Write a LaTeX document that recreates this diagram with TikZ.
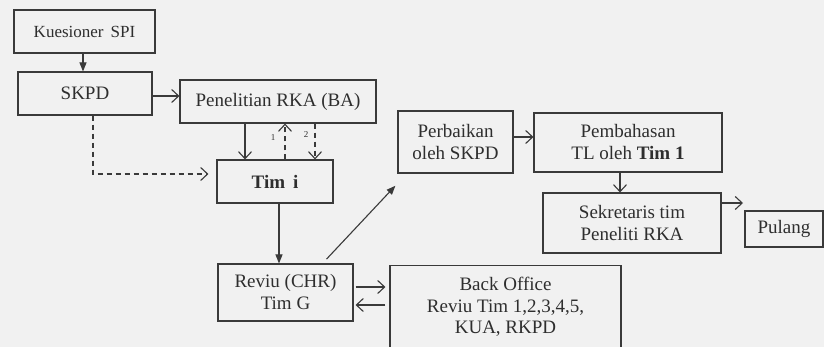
\documentclass[tikz,border=0pt]{standalone}
\usepackage{fontspec}
\setmainfont{Liberation Serif}
\usetikzlibrary{arrows.meta,calc}
\definecolor{linec}{HTML}{3A3A3A}
\definecolor{textc}{HTML}{2E2E2E}
\definecolor{bgc}{HTML}{F1F1F1}
\tikzset{
  box/.style={draw=linec, line width=1.1pt, rectangle, inner sep=0pt, align=center,
    font=\fontsize{19}{22}\selectfont, text=textc},
  openarr/.style={draw=linec, line width=1.1pt, -{Straight Barb[length=7pt,width=13pt,line width=1.1pt]}},
  fillarr/.style={draw=linec, line width=1.1pt, -{Triangle[length=9pt,width=7pt]}},
  dasharr/.style={openarr, dash pattern=on 5pt off 4pt},
  numlbl/.style={font=\fontsize{9}{9}\selectfont, text=textc, inner sep=0pt}
}
\begin{document}
\begin{tikzpicture}[x=1pt,y=-1pt]
\fill[bgc] (0,0) rectangle (824,347);
\useasboundingbox (0,0) rectangle (824,347);
\clip (0,0) rectangle (824,347);

\node[box, minimum width=141pt, minimum height=43pt, font=\fontsize{17}{20}\selectfont] (kues) at (84.5,31.5) {Kuesioner\, SPI};
\node[box, minimum width=134pt, minimum height=43pt] (skpd) at (85,93.5) {SKPD};
\node[box, minimum width=196pt, minimum height=43pt] (pen) at (278,101.5) {Penelitian RKA (BA)};
\node[box, minimum width=116pt, minimum height=43pt] (timi) at (275,181.5) {\textbf{Tim\, i}};
\node[box, minimum width=135pt, minimum height=57pt] (reviu) at (285.5,292.5) {Reviu (CHR)\\Tim G};
\node[box, minimum width=231pt, minimum height=95pt, anchor=north] (back) at (505.5,265) {};
\node[align=center, font=\fontsize{19}{21.5}\selectfont, text=textc, anchor=north, inner sep=0pt] (backtxt) at (505.5,277) {Back Office\\Reviu Tim 1,2,3,4,5,\\KUA, RKPD};
\node[box, minimum width=115pt, minimum height=62pt] (perb) at (455.5,142) {Perbaikan\\oleh SKPD};
\node[box, minimum width=188pt, minimum height=59pt] (pemb) at (628,142.5) {Pembahasan\\TL oleh \textbf{Tim 1}};
\node[box, minimum width=178pt, minimum height=60pt] (sekr) at (632,223) {Sekretaris tim\\Peneliti RKA};
\node[box, minimum width=78pt, minimum height=36pt] (pulang) at (784,229) {Pulang};

\coordinate (pulangin) at (743,203);

% connectors
\draw[fillarr] (kues.south -| 83,0) -- (skpd.north -| 83,0);
\draw[openarr] (skpd.east |- 0,96) -- (pen.west |- 0,96);
\draw[openarr] (pen.south -| 245,0) -- (timi.north -| 245,0);
\draw[dasharr] (timi.north -| 285,0) -- (pen.south -| 285,0);
\draw[dasharr] (pen.south -| 315,0) -- (timi.north -| 315,0);
\node[numlbl] (n1) at (273,138) {1};
\node[numlbl] (n2) at (306,135) {2};
\draw[dasharr, shorten >=8pt] (skpd.south -| 93,0) -- (93,174) -- (timi.west |- 0,174);
\draw[fillarr] (timi.south -| 279,0) -- (reviu.north -| 279,0);
\draw[fillarr, shorten <=6pt, shorten >=3pt] ($(reviu.north west)+(105,0)$) -- ($(perb.south west)+(0,10)$);
\draw[openarr] (perb.east |- 0,137) -- (pemb.west |- 0,137);
\draw[openarr] (pemb.south -| 620,0) -- (sekr.north -| 620,0);
\draw[openarr] (sekr.east |- 0,203) -- (pulangin);
\draw[openarr, shorten <=2pt, shorten >=4pt] (reviu.east |- 0,287) -- (back.west |- 0,287);
\draw[openarr, shorten <=4pt, shorten >=2pt] (back.west |- 0,305) -- (reviu.east |- 0,305);
\end{tikzpicture}
\end{document}
